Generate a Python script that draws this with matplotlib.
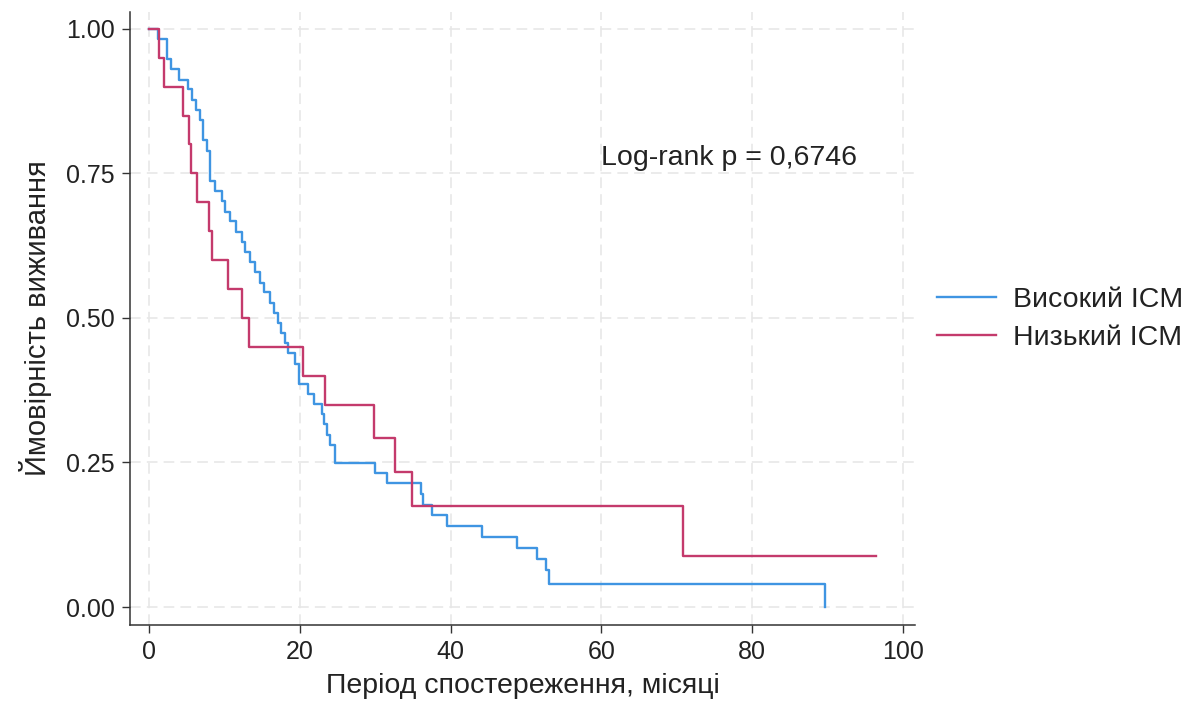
import numpy as np
import matplotlib.pyplot as plt
from matplotlib.lines import Line2D

plt.rcParams['font.family'] = ['Liberation Sans', 'DejaVu Sans']

# Високий ICM: event times (months) and survival after each step
high_t = [1.15, 2.35, 2.9, 4.0, 5.2, 5.65, 6.3, 6.75, 7.2, 7.65, 8.1, 8.75, 9.65,
          10.1, 10.75, 11.6, 12.3, 12.75, 13.4, 14.05, 14.7, 15.25, 16.05, 16.6,
          17.1, 17.5, 18.05, 18.45, 19.35, 19.9, 21.1, 21.9, 22.95, 23.2, 23.6,
          24.0, 24.7, 30.0, 31.6, 36.1, 36.4, 37.5, 39.5, 44.2, 48.8, 51.5, 52.6,
          53.1, 89.7]
high_s = [0.983, 0.947, 0.930, 0.912, 0.895, 0.877, 0.860, 0.842, 0.807, 0.789,
          0.737, 0.719, 0.702, 0.684, 0.667, 0.649, 0.632, 0.614, 0.596, 0.579,
          0.561, 0.544, 0.526, 0.509, 0.491, 0.474, 0.456, 0.439, 0.421, 0.386,
          0.368, 0.351, 0.333, 0.316, 0.298, 0.281, 0.249, 0.232, 0.214, 0.195,
          0.177, 0.159, 0.140, 0.121, 0.102, 0.083, 0.064, 0.040, 0.0]
high_end = 89.7

# Низький ICM
low_t = [1.33, 1.99, 4.5, 5.3, 5.57, 6.37, 7.96, 8.36, 10.5, 12.3, 13.3, 20.4,
         23.3, 29.8, 32.6, 34.9, 70.8]
low_s = [0.95, 0.90, 0.85, 0.80, 0.75, 0.70, 0.65, 0.60, 0.55, 0.50, 0.45, 0.40,
         0.35, 0.292, 0.233, 0.175, 0.0875]
low_end = 96.4

labels = ['Високий ICM', 'Низький ICM']
colors = ['#3f95e2', '#c43a6c']

fig = plt.figure(figsize=(11.98, 7.01), dpi=100)
ax = fig.add_axes([130/1198, 76/701, 785/1198, 613/701])

for t, s, end, c in [(high_t, high_s, high_end, colors[0]),
                     (low_t, low_s, low_end, colors[1])]:
    x = np.r_[0, t, end]
    y = np.r_[1.0, s, s[-1]]
    ax.step(x, y, where='post', color=c, lw=1.7)

ax.set_xlim(-2.52, 101.6)
ax.set_ylim(-0.031, 1.029)
ax.set_xticks([0, 20, 40, 60, 80, 100])
ax.set_yticks([0, 0.25, 0.5, 0.75, 1.0])
ax.set_yticklabels(['0.00', '0.25', '0.50', '0.75', '1.00'])
ax.grid(True, color='#e6e6e6', ls=(0, (7, 4)), lw=1.1)
ax.set_axisbelow(True)
for sp in ['top', 'right']:
    ax.spines[sp].set_visible(False)
for sp in ['left', 'bottom']:
    ax.spines[sp].set_color('#333333')
    ax.spines[sp].set_linewidth(1.1)
ax.tick_params(direction='out', length=6, width=1.0, color='#333333',
               labelsize=18, labelcolor='#222222', pad=5)

ax.set_xlabel('Період спостереження, місяці', fontsize=20.5, color='#222222', labelpad=6)
ax.set_ylabel('Ймовірність виживання', fontsize=21, color='#222222', labelpad=10)

ax.text(59.9, 0.777, 'Log-rank p = 0,6746', fontsize=20.5, color='#222222',
        ha='left', va='center')

handles = [Line2D([], [], color=c, lw=1.7) for c in colors]
fig.legend(handles, labels, loc='center left', bbox_to_anchor=(926/1198, 382/701),
           frameon=False, fontsize=20.5, handlelength=2.05, handletextpad=0.6,
           labelspacing=0.4, borderaxespad=0, labelcolor='#222222')

fig.savefig('out.png', dpi=100)
